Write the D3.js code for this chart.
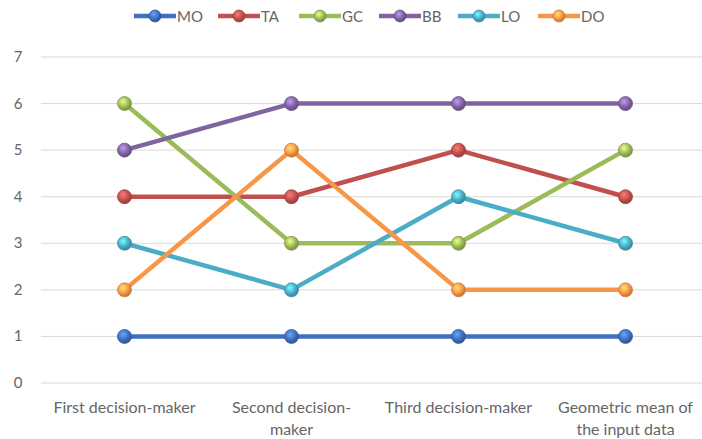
<!DOCTYPE html>
<html>
<head>
<meta charset="utf-8">
<script src="https://cdn.jsdelivr.net/npm/d3@7"></script>
<style>
body{margin:0;background:#fff;}
text{font-family:Lato,"Open Sans",sans-serif;}
</style>
</head>
<body>
<div id="chart"></div>
<script>
"use strict";

var categories=["First decision-maker","Second decision-maker","Third decision-maker","Geometric mean of the input data"];
var categoryLines=[["First decision-maker"],["Second decision-","maker"],["Third decision-maker"],["Geometric mean of","the input data"]];
var seriesNames=["MO","TA","GC","BB","LO","DO"];
var seriesColors=["#3f6fbf","#c0504d","#9bbb59","#8064a2","#4bacc6","#f79646"];
var MO=[1,1,1,1];
var TA=[4,4,5,4];
var GC=[6,3,3,5];
var BB=[5,6,6,6];
var LO=[3,2,4,3];
var DO=[2,5,2,2];
var seriesValues=[MO,TA,GC,BB,LO,DO];
var yTicks=[0,1,2,3,4,5,6,7];

var w=702,h=439;
var svg=d3.select("#chart").append("svg").attr("width",w).attr("height",h);

var x=d3.scaleBand().domain(categories).range([41,709]);
var y=d3.scaleLinear().domain([0,7]).range([383,57]);

// gradients for the round markers
var defs=svg.append("defs");
seriesColors.forEach(function(c,i){
    var g=defs.append("radialGradient").attr("id","grad"+i)
        .attr("cx","40%").attr("cy","35%").attr("r","65%");
    g.append("stop").attr("offset","0%").attr("stop-color",d3.color(c).brighter(1.2));
    g.append("stop").attr("offset","60%").attr("stop-color",c);
    g.append("stop").attr("offset","100%").attr("stop-color",d3.color(c).darker(0.8));
});

// grid
svg.append("g").selectAll("line").data(yTicks).enter().append("line")
    .attr("x1",41).attr("x2",w)
    .attr("y1",function(d){return y(d);}).attr("y2",function(d){return y(d);})
    .attr("stroke","#d9d9d9").attr("stroke-width",1);

svg.append("g").selectAll("text").data(yTicks).enter().append("text")
    .attr("x",18).attr("y",function(d){return y(d)+5;})
    .attr("text-anchor","middle").attr("font-size",15).attr("fill","#666")
    .text(function(d){return d;});

// x labels
var xl=svg.append("g").selectAll("text").data(categories).enter().append("text")
    .attr("x",function(d){return x(d)+x.bandwidth()/2;})
    .attr("y",413).attr("text-anchor","middle").attr("font-size",16).attr("fill","#666");
xl.each(function(d,i){
    var t=d3.select(this);
    categoryLines[i].forEach(function(s,j){
        t.append("tspan").attr("x",x(d)+x.bandwidth()/2).attr("dy",j==0?0:22).text(s);
    });
});

var line=d3.line()
    .x(function(d,i){return x(categories[i])+x.bandwidth()/2;})
    .y(function(d){return y(d);});

seriesValues.forEach(function(vals,s){
    var g=svg.append("g");
    g.append("path").attr("d",line(vals)).attr("fill","none")
        .attr("stroke",seriesColors[s]).attr("stroke-width",4.5).attr("stroke-linejoin","round");
    g.selectAll("circle").data(vals).enter().append("circle")
        .attr("cx",function(d,i){return x(categories[i])+x.bandwidth()/2;})
        .attr("cy",function(d){return y(d);})
        .attr("r",7).attr("fill","url(#grad"+s+")")
        .attr("stroke",d3.color(seriesColors[s]).darker(0.5)).attr("stroke-width",0.8);
});

// legend
var legX=[134,218,299,379,458,538];
var leg=svg.append("g").selectAll("g").data(seriesNames).enter().append("g")
    .attr("transform",function(d,i){return "translate("+legX[i]+",16)";});
leg.append("line").attr("x1",0).attr("x2",42).attr("y1",0).attr("y2",0)
    .attr("stroke",function(d,i){return seriesColors[i];}).attr("stroke-width",4.5);
leg.append("circle").attr("cx",21).attr("cy",0).attr("r",6)
    .attr("fill",function(d,i){return "url(#grad"+i+")";})
    .attr("stroke",function(d,i){return d3.color(seriesColors[i]).darker(0.5);}).attr("stroke-width",0.8);
leg.append("text").attr("x",43).attr("y",5.5).attr("font-size",15).attr("fill","#666")
    .text(function(d){return d;});
</script>
</body>
</html>
